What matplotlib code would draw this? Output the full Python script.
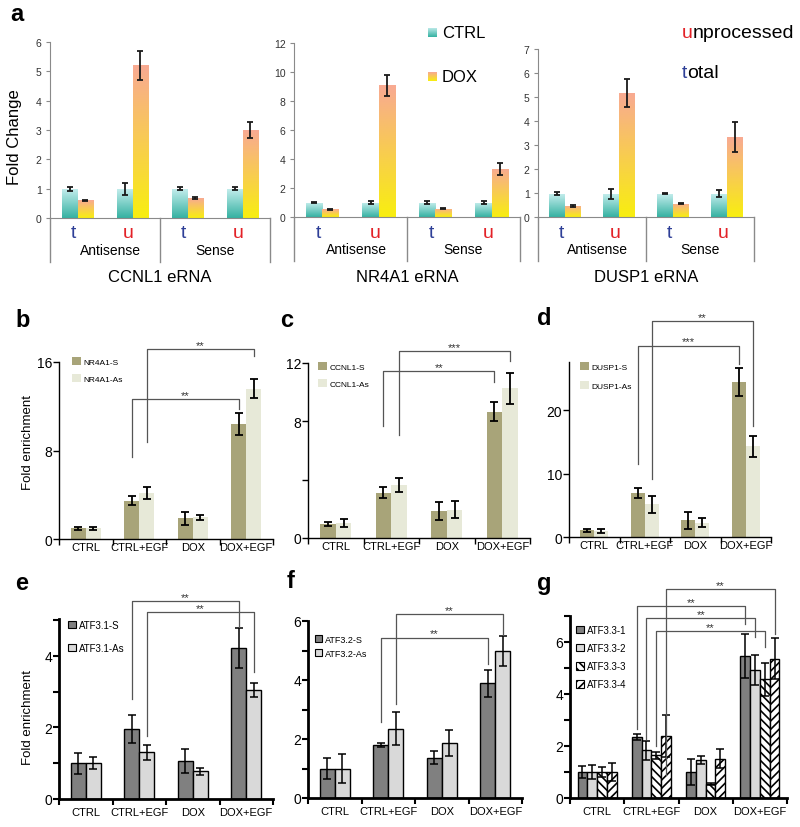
import numpy as np
import matplotlib
matplotlib.use('Agg')
import matplotlib.pyplot as plt
from matplotlib.transforms import Affine2D, blended_transform_factory, offset_copy
from matplotlib.patches import Patch
from matplotlib.colors import LinearSegmentedColormap

plt.rcParams['font.family'] = ['Liberation Sans', 'DejaVu Sans']
plt.rcParams['hatch.linewidth'] = 1.2

# ---------------- data: panel a ----------------
a_genes = ['CCNL1 eRNA', 'NR4A1 eRNA', 'DUSP1 eRNA']
a_rna = ['t', 'u', 't', 'u']
a_strands = ['Antisense', 'Sense']
a_ctrl = [[1.0, 1.0, 1.0, 1.0], [0.99, 1.0, 1.0, 1.0], [0.97, 0.97, 0.97, 0.97]]
a_ctrl_err = [[0.07, 0.2, 0.05, 0.05], [0.03, 0.1, 0.1, 0.1], [0.07, 0.2, 0.03, 0.15]]
a_dox = [[0.6, 5.2, 0.68, 2.99], [0.53, 9.08, 0.57, 3.33], [0.46, 5.17, 0.55, 3.33]]
a_dox_err = [[0.02, 0.49, 0.04, 0.27], [0.04, 0.71, 0.05, 0.41], [0.04, 0.6, 0.02, 0.64]]
a_ymax = [6, 12, 7]

# ---------------- data: panels b-g ----------------
conditions = ['CTRL', 'CTRL+EGF', 'DOX', 'DOX+EGF']

b_names = ['NR4A1-S', 'NR4A1-As']
b_vals = [[0.96, 3.46, 1.87, 10.4], [0.96, 4.16, 1.96, 13.6]]
b_errs = [[0.15, 0.42, 0.57, 1.0], [0.15, 0.56, 0.24, 0.86]]

c_names = ['CCNL1-S', 'CCNL1-As']
c_vals = [[0.98, 3.09, 1.85, 8.67], [1.03, 3.64, 1.95, 10.27]]
c_errs = [[0.14, 0.38, 0.63, 0.63], [0.29, 0.46, 0.56, 1.05]]

d_names = ['DUSP1-S', 'DUSP1-As']
d_vals = [[1.05, 7.0, 2.63, 24.4], [0.95, 5.16, 2.26, 14.3]]
d_errs = [[0.25, 0.8, 1.3, 2.2], [0.35, 1.3, 0.7, 1.7]]

e_names = ['ATF3.1-S', 'ATF3.1-As']
e_vals = [[1.0, 1.95, 1.07, 4.21], [1.0, 1.3, 0.77, 3.05]]
e_errs = [[0.29, 0.39, 0.33, 0.56], [0.17, 0.2, 0.09, 0.2]]

f_names = ['ATF3.2-S', 'ATF3.2-As']
f_vals = [[1.0, 1.79, 1.37, 3.89], [1.0, 2.35, 1.88, 4.99]]
f_errs = [[0.36, 0.07, 0.23, 0.46], [0.48, 0.57, 0.44, 0.5]]

g_names = ['ATF3.3-1', 'ATF3.3-2', 'ATF3.3-3', 'ATF3.3-4']
g_vals = [[1.0, 2.35, 1.0, 5.45], [1.0, 1.83, 1.46, 4.91],
          [1.0, 1.64, 0.55, 4.56], [1.0, 2.38, 1.51, 5.36]]
g_errs = [[0.24, 0.12, 0.49, 0.85], [0.27, 0.37, 0.16, 0.58],
          [0.18, 0.14, 0.04, 0.65], [0.36, 0.8, 0.36, 0.8]]

# significance brackets: (series, left-leg bottom, top, right-leg bottom, label)
b_sig = [(0, 7.4, 12.66, 11.75, '**'), (1, 8.8, 17.2, 16.5, '**')]
c_sig = [(0, 7.68, 11.45, 10.7, '**'), (1, 7.06, 12.83, 12.14, '***')]
d_sig = [(0, 11.5, 30.2, 27.3, '***'), (1, 9.2, 34.1, 17.5, '**')]
e_sig = [(0, 2.79, 5.53, 4.8, '**'), (1, 1.76, 5.22, 3.55, '**')]
f_sig = [(0, 2.57, 5.44, 4.53, '**'), (1, 3.18, 6.25, 5.54, '**')]
g_sig = [(0, 2.65, 7.38, 6.69, '**'), (1, 2.27, 6.92, 6.19, '**'),
         (2, 2.0, 6.42, 5.81, '**'), (3, 0.88, 8.04, 6.31, '**')]

# ---------------- layout helpers ----------------
W, H = 800, 828
fig = plt.figure(figsize=(W / 100, H / 100), dpi=100)
PX = Affine2D().scale(1 / W, -1 / H).translate(0, 1) + fig.transFigure


def add_ax(x0, y0, x1, y1):
    return fig.add_axes([x0 / W, 1 - y1 / H, (x1 - x0) / W, (y1 - y0) / H])


def grad_bar(ax, bar, top, bottom):
    x, y = bar.get_x(), bar.get_y()
    w, h = bar.get_width(), bar.get_height()
    cmap = LinearSegmentedColormap.from_list('g', [bottom, top])
    im = ax.imshow(np.linspace(0, 1, 64).reshape(-1, 1), cmap=cmap, origin='lower',
                   extent=(x, x + w, y, y + h), aspect='auto', zorder=2,
                   interpolation='bilinear')
    im.set_clip_path(bar)


def px_legend(ax, handles, labels, x, y, fs, pitch, hl=1.1, pad=0.4):
    fs_px = fs * 100 / 72
    row_h = max(fs_px * 1.15, hl * fs_px)
    ls = max((pitch - row_h) / fs_px, 0)
    return ax.legend(handles, labels, loc='upper left', bbox_to_anchor=(x, y),
                     bbox_transform=PX, frameon=False, borderpad=0, borderaxespad=0,
                     handlelength=hl, handleheight=hl, handletextpad=pad,
                     labelspacing=ls, fontsize=fs)


# ---------------- panel a ----------------
a_boxes = [(50, 43, 270, 219), (294, 44, 520, 218), (538, 50, 754, 218)]
a_step = [1, 2, 1]
CT_TOP, CT_BOT = '#c6eeee', '#36b2a2'
DX_TOP, DX_BOT = '#f8aa92', '#f8ee10'
T_COL, U_COL = '#2e3f97', '#e32228'
GRAY = '#8a8a8a'

for i, (x0, y0, x1, y1) in enumerate(a_boxes):
    ax = add_ax(x0, y0, x1, y1)
    hp = y1 - y0
    centers = np.arange(4) + 0.5
    w = 0.29
    b1 = ax.bar(centers - w / 2, a_ctrl[i], w, color='none', edgecolor='none')
    b2 = ax.bar(centers + w / 2, a_dox[i], w, color='none', edgecolor='none')
    for b in b1:
        grad_bar(ax, b, CT_TOP, CT_BOT)
    for b in b2:
        grad_bar(ax, b, DX_TOP, DX_BOT)
    ax.errorbar(centers - w / 2, a_ctrl[i], yerr=a_ctrl_err[i], fmt='none',
                ecolor='#1a1a1a', elinewidth=1.3, capsize=2.5, capthick=1.3, zorder=3)
    ax.errorbar(centers + w / 2, a_dox[i], yerr=a_dox_err[i], fmt='none',
                ecolor='#1a1a1a', elinewidth=1.3, capsize=2.5, capthick=1.3, zorder=3)
    ax.set_xlim(0, 4)
    ax.set_ylim(0, a_ymax[i])
    ax.set_yticks(np.arange(0, a_ymax[i] + 0.01, a_step[i]))
    ax.set_xticks([])
    for s in ['top', 'right']:
        ax.spines[s].set_visible(False)
    for s in ['left', 'bottom']:
        ax.spines[s].set_color(GRAY)
    ax.tick_params(axis='y', length=3, color=GRAY, labelsize=7.5, labelcolor='#333333', pad=3)
    tr = blended_transform_factory(ax.transData, ax.transAxes)
    for xv in [0, 2, 4]:
        ax.plot([xv, xv], [0, -44 / hp], transform=tr, color=GRAY, lw=1, clip_on=False)
    for j, lab in enumerate(a_rna):
        ax.text(centers[j] - 0.07, -15 / hp, lab, transform=tr, ha='center', va='center',
                fontsize=14, color=T_COL if lab == 't' else U_COL)
    for j, lab in enumerate(a_strands):
        ax.text(1.1 + 2 * j - (0.1 if j else 0), -32 / hp, lab, transform=tr,
                ha='center', va='center', fontsize=10)
    ax.text(2, -59 / hp, a_genes[i], transform=tr, ha='center', va='center', fontsize=12)

fig.text(15, 137, 'Fold Change', transform=PX, rotation=90, ha='center', va='center', fontsize=12)

# legend swatches for panel a (gradient squares)
for (yc, top, bot, lab) in [(33, CT_TOP, CT_BOT, 'CTRL'), (77, DX_TOP, DX_BOT, 'DOX')]:
    sq = add_ax(428, yc - 4.5, 437, yc + 4.5)
    sq.imshow(np.linspace(0, 1, 32).reshape(-1, 1), origin='lower', aspect='auto',
              cmap=LinearSegmentedColormap.from_list('s', [bot, top]))
    sq.axis('off')
    fig.text(442, yc, lab, transform=PX, ha='left', va='center', fontsize=12)

for (yc, first, rest, col) in [(33, 'u', 'nprocessed', U_COL), (73, 't', 'otal', T_COL)]:
    t1 = fig.text(682, yc, first, transform=PX, ha='left', va='center', fontsize=14, color=col)
    fig.add_artist(plt.Annotation(rest, xy=(1, 0), xycoords=t1, ha='left', va='bottom',
                                  fontsize=14, color='black'))


# ---------------- panels b-g ----------------
def group_panel(box, ylim, yticks, ylabels, series, errs, names, colors, width,
                leg, sig, bw=False, hatches=None, lab_pad=2.5):
    x0, y0, x1, y1 = box
    ax = add_ax(x0, y0, x1, y1)
    n = len(series)
    centers = np.arange(4) + 0.5
    offs = (np.arange(n) - (n - 1) / 2) * width
    handles = []
    for k in range(n):
        kw = dict(color=colors[k], zorder=2)
        if bw:
            kw.update(edgecolor='black', linewidth=1.0)
            if hatches and hatches[k]:
                kw.update(hatch=hatches[k])
        else:
            kw.update(edgecolor='none')
        ax.bar(centers + offs[k], series[k], width, **kw)
        ax.errorbar(centers + offs[k], series[k], yerr=errs[k], fmt='none', ecolor='black',
                    elinewidth=1.3 if not bw else 1.1, capsize=2.6,
                    capthick=1.3 if not bw else 1.1, zorder=3)
        if bw:
            handles.append(Patch(facecolor=colors[k], edgecolor='black', linewidth=0.8,
                                 hatch=(hatches[k] if hatches else None)))
        else:
            handles.append(Patch(facecolor=colors[k], edgecolor='none'))
    ax.set_xlim(0, 4)
    ax.set_ylim(0, ylim)
    ax.set_yticks(yticks)
    ax.set_yticklabels(ylabels)
    ax.set_xticks([0, 1, 2, 3, 4])
    ax.set_xticklabels([])
    ax.set_xticks(centers, minor=True)
    ax.set_xticklabels(conditions, minor=True)
    for s in ['top', 'right']:
        ax.spines[s].set_visible(False)
    lw = 2.0 if bw else 1.0
    for s in ['left', 'bottom']:
        ax.spines[s].set_linewidth(lw)
        ax.spines[s].set_color('black')
    ax.tick_params(axis='y', length=4, width=1.0 if not bw else 1.5, labelsize=10, pad=1)
    ax.tick_params(axis='x', which='major', length=4, width=1.0 if not bw else 1.5)
    ax.tick_params(axis='x', which='minor', length=0, labelsize=8, pad=lab_pad)
    lx, ly, fs, pitch, hl = leg
    px_legend(ax, handles, names, lx, ly, fs, pitch, hl=hl, pad=0.3)
    for (k, yl0, ytop, yr0, lab) in sig:
        xl = centers[1] + offs[k]
        xr = centers[3] + offs[k]
        ax.plot([xl, xl, xr, xr], [yl0, ytop, ytop, yr0], color='#555555', lw=0.9,
                clip_on=False, zorder=4)
        ax.text((xl + xr) / 2, ytop, lab,
                transform=offset_copy(ax.transData, fig=fig, x=0, y=4, units='dots'),
                ha='center', va='center', fontsize=8, color='#333333', clip_on=False)
    return ax


OLIVE = ['#a8a479', '#e7e9d8']
BW = ['#808080', '#d9d9d9']

group_panel((59, 363, 273, 540), 16, [0, 8, 16], ['0', '8', '16'], b_vals, b_errs, b_names,
            OLIVE, 0.28, (72, 358, 6, 18, 1.1), b_sig)
group_panel((308, 364, 530, 539), 12, [0, 4, 8, 12], ['0', '', '8', '12'], c_vals, c_errs,
            c_names, OLIVE, 0.28, (318, 363, 6, 18, 1.1), c_sig)
group_panel((569, 363, 771, 538), 27.6, [0, 10, 20], ['0', '10', '20'], d_vals, d_errs,
            d_names, OLIVE, 0.28, (580, 363, 6, 20, 1.1), d_sig)

group_panel((59, 620, 273, 800), 5.03, [0, 1, 2, 3, 4, 5], ['0', '', '2', '', '4', ''],
            e_vals, e_errs, e_names, BW, 0.28, (68, 621, 7, 24, 0.8), e_sig, bw=True, lab_pad=6)
group_panel((308, 622, 522, 799), 6, [0, 1, 2, 3, 4, 5, 6], ['0', '', '2', '', '4', '', '6'],
            f_vals, f_errs, f_names, BW, 0.28, (315, 636, 6.5, 15, 0.8), f_sig, bw=True, lab_pad=6)
group_panel((570, 617, 787, 799), 7, [0, 1, 2, 3, 4, 5, 6, 7], ['0', '', '2', '', '4', '', '6', ''],
            g_vals, g_errs, g_names, ['#808080', '#d9d9d9', 'white', 'white'], 0.18,
            (576, 626, 7, 19.3, 0.8), g_sig, bw=True, hatches=[None, None, '\\\\\\\\', '////'],
            lab_pad=6)

fig.text(28, 443, 'Fold enrichment', transform=PX, rotation=90, ha='center', va='center', fontsize=9.5)
fig.text(28, 718, 'Fold enrichment', transform=PX, rotation=90, ha='center', va='center', fontsize=9.5)

for (lx, ly, lt) in [(10, 21, 'a'), (15, 327, 'b'), (280, 327, 'c'), (537, 325, 'd'),
                     (15, 590, 'e'), (287, 588, 'f'), (537, 590, 'g')]:
    fig.text(lx, ly, lt, transform=PX, ha='left', va='baseline', fontsize=17, fontweight='bold')

fig.savefig('out.png', dpi=100)
